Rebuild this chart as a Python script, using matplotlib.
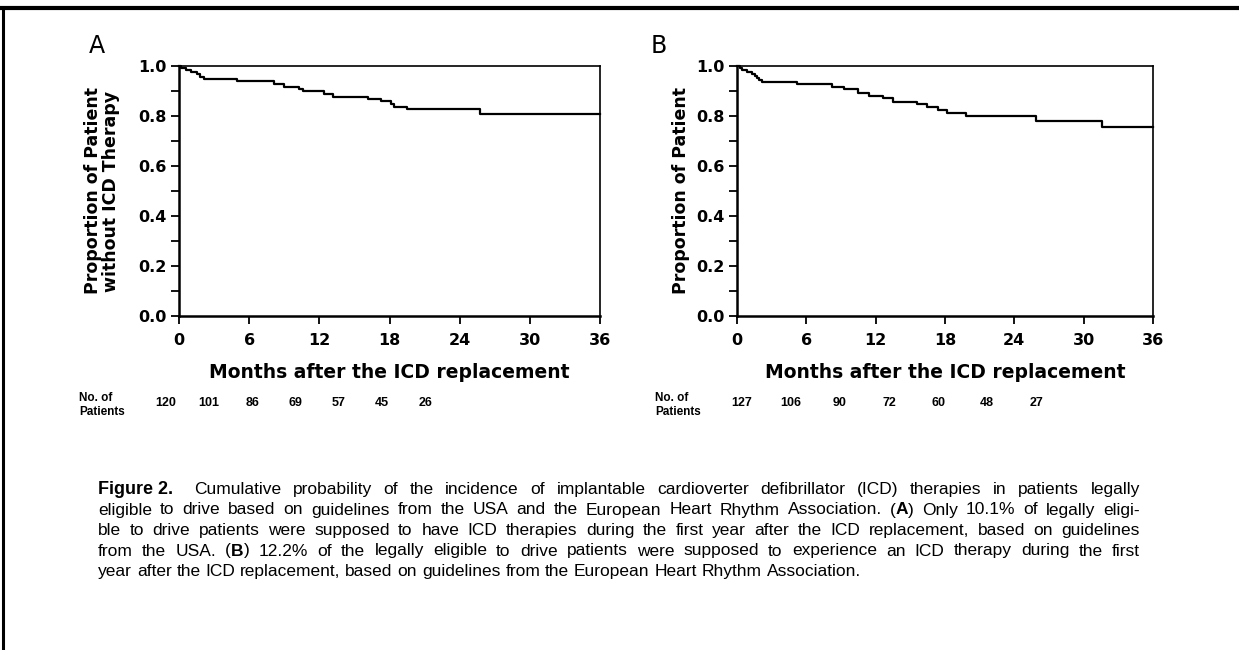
import matplotlib
matplotlib.use("Agg")
import matplotlib.pyplot as plt
from matplotlib.lines import Line2D
from matplotlib.ticker import MultipleLocator
from matplotlib import font_manager

# Kaplan-Meier steps (months, proportion after the step)
a_months = [0, 0.2, 0.6, 1.0, 1.5, 1.8, 2.1, 5.0, 8.1, 9.0, 10.3, 10.6, 12.4, 13.2,
            16.2, 17.3, 18.1, 18.4, 19.5, 25.7, 36]
a_surv = [1.0, 0.992, 0.983, 0.975, 0.967, 0.958, 0.950, 0.940, 0.930, 0.918, 0.908, 0.899,
          0.889, 0.877, 0.869, 0.860, 0.848, 0.838, 0.827, 0.807, 0.807]

b_months = [0, 0.3, 0.45, 0.85, 1.3, 1.6, 1.75, 1.9, 2.2, 5.2, 8.2, 9.3, 10.5, 11.4, 12.6,
            13.5, 15.6, 16.4, 17.4, 18.2, 19.8, 25.9, 31.6, 36]
b_surv = [1.0, 0.992, 0.984, 0.976, 0.968, 0.961, 0.953, 0.945, 0.937, 0.929, 0.918, 0.907,
          0.893, 0.881, 0.873, 0.858, 0.848, 0.837, 0.824, 0.812, 0.800, 0.780, 0.755, 0.755]

a_at_risk = [120, 101, 86, 69, 57, 45, 26]
b_at_risk = [127, 106, 90, 72, 60, 48, 27]

x_ticks = [0, 6, 12, 18, 24, 30, 36]

caption_lines = [
    "Cumulative probability of the incidence of implantable cardioverter defibrillator (ICD) therapies in patients legally",
    "eligible to drive based on guidelines from the USA and the European Heart Rhythm Association. (*A*) Only 10.1% of legally eligi-",
    "ble to drive patients were supposed to have ICD therapies during the first year after the ICD replacement, based on guidelines",
    "from the USA. (*B*) 12.2% of the legally eligible to drive patients were supposed to experience an ICD therapy during the first",
    "year after the ICD replacement, based on guidelines from the European Heart Rhythm Association.",
]

W, H = 1239, 650
fig = plt.figure(figsize=(W / 100, H / 100), dpi=100)


def fx(px):
    return px / W


def fy(py):
    return 1 - py / H


names = set(f.name for f in font_manager.fontManager.ttflist)
narrow = "Liberation Sans Narrow" if "Liberation Sans Narrow" in names else "Liberation Sans"

# frame around the figure (top and left only)
fig.add_artist(Line2D([0, 1], [fy(8), fy(8)], color="black", lw=3.0, transform=fig.transFigure))
fig.add_artist(Line2D([fx(3), fx(3)], [fy(8), 0], color="black", lw=2.2, transform=fig.transFigure))


def km_panel(left, right, months, surv, ylabel, ylab_x):
    ax = fig.add_axes([fx(left), fy(316), fx(right - left), fy(66) - fy(316)])
    ax.step(months, surv, where="post", color="black", lw=1.6, clip_on=False)
    ax.set_xlim(0, 36)
    ax.set_ylim(0, 1.0)
    ax.set_xticks(x_ticks)
    ax.yaxis.set_major_locator(MultipleLocator(0.2))
    ax.yaxis.set_minor_locator(MultipleLocator(0.1))
    ax.yaxis.set_major_formatter(plt.FormatStrFormatter("%.1f"))
    ax.tick_params(which="both", direction="out", length=6, width=1.3, color="black")
    ax.tick_params(axis="y", pad=3)
    ax.tick_params(axis="x", pad=6)
    for lab in ax.get_xticklabels() + ax.get_yticklabels():
        lab.set_fontweight("bold")
        lab.set_fontsize(11.5)
        lab.set_family("DejaVu Sans")
    for side in ["left", "bottom"]:
        ax.spines[side].set_linewidth(1.8)
    for side in ["top", "right"]:
        ax.spines[side].set_linewidth(1.2)
    ax.set_xlabel("Months after the ICD replacement", fontsize=13.5, fontweight="bold",
                  family="DejaVu Sans")
    ax.xaxis.set_label_coords(0.5, (316 - 372) / 250)
    ax.xaxis.label.set_va("center")
    ax.set_ylabel(ylabel, fontsize=12.5, fontweight="bold", family="DejaVu Sans",
                  linespacing=1.05)
    ax.yaxis.set_label_coords((ylab_x - left) / (right - left), 0.5)
    ax.yaxis.label.set_va("center")
    return ax


km_panel(179, 600, a_months, a_surv, "Proportion of Patient\nwithout ICD Therapy", 102)
km_panel(737, 1153, b_months, b_surv, "Proportion of Patient", 681)

fig.text(fx(97), fy(46), "A", fontsize=17, ha="center", va="center", family="DejaVu Sans")
fig.text(fx(659), fy(46), "B", fontsize=17, ha="center", va="center", family="DejaVu Sans")

# number at risk rows
for x0, step, counts in [(79, 43.2, a_at_risk), (655, 49.0, b_at_risk)]:
    fig.text(fx(x0), fy(405), "No. of\nPatients", fontsize=8.5, fontweight="bold",
             family="Liberation Sans", ha="left", va="center", linespacing=1.25)
    for i, n in enumerate(counts):
        fig.text(fx(x0 + 87 + step * i), fy(403), str(n), fontsize=9, fontweight="bold",
                 family="Liberation Sans", ha="center", va="center")

# caption, justified like the printed page
renderer = fig.canvas.get_renderer()
cap_size = 12.5
cap_left, cap_right = 98, 1140


def parse_word(word):
    parts = word.split("*")
    return [(p, i % 2 == 1) for i, p in enumerate(parts) if p]


def seg_width(txt, bold):
    t = fig.text(0, 0, txt, fontsize=cap_size, family="Liberation Sans",
                 fontweight="bold" if bold else "normal")
    w = t.get_window_extent(renderer).width
    t.remove()
    return w


def draw_line(text, x_start, y, justify):
    words = [parse_word(w) for w in text.split(" ")]
    widths = [sum(seg_width(s, b) for s, b in w) for w in words]
    if justify:
        gap = (cap_right - x_start - sum(widths)) / (len(words) - 1)
    else:
        gap = seg_width("a a", False) - 2 * seg_width("a", False)
    x = x_start
    for w, wd in zip(words, widths):
        xx = x
        for s, b in w:
            fig.text(fx(xx), fy(y), s, fontsize=cap_size, family="Liberation Sans",
                     fontweight="bold" if b else "normal", ha="left", va="baseline")
            xx += seg_width(s, b)
        x += wd + gap


y0 = 494
fig.text(fx(cap_left), fy(y0), "Figure 2.", fontsize=13, fontweight="bold",
         family=narrow, ha="left", va="baseline")
for i, line in enumerate(caption_lines):
    xs = 194 if i == 0 else cap_left
    draw_line(line, xs, y0 + 20.5 * i, i < len(caption_lines) - 1)

fig.savefig("out.png", dpi=100)
